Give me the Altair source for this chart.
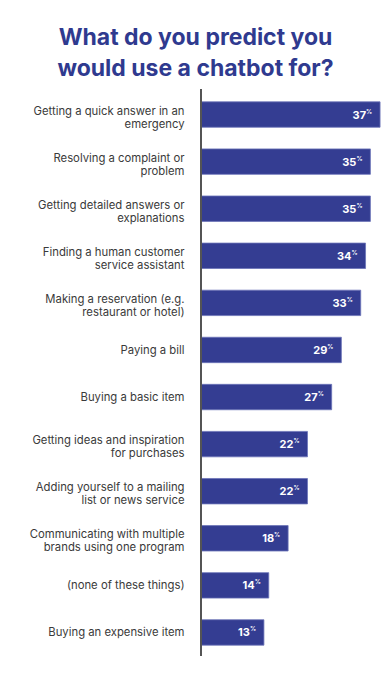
import altair as alt
import pandas as pd

categories = [
    "Getting a quick answer in an|emergency",
    "Resolving a complaint or|problem",
    "Getting detailed answers or|explanations",
    "Finding a human customer|service assistant",
    "Making a reservation (e.g.|restaurant or hotel)",
    "Paying a bill",
    "Buying a basic item",
    "Getting ideas and inspiration|for purchases",
    "Adding yourself to a mailing|list or news service",
    "Communicating with multiple|brands using one program",
    "(none of these things)",
    "Buying an expensive item",
]
values = [37, 35, 35, 34, 33, 29, 27, 22, 22, 18, 14, 13]
title_lines = ["What do you predict you", "would use a chatbot for?"]

df = pd.DataFrame({"cat": categories, "val": values})
df["lab"] = df["val"].astype(str)

W, H = 181, 565
BLUE = "#343d92"

y_enc = alt.Y(
    "cat:N",
    sort=categories,
    title=None,
    scale=alt.Scale(paddingInner=0.46, paddingOuter=0.23),
    axis=alt.Axis(
        labelExpr="split(datum.label, '|')",
        labelFontSize=11.3,
        labelFont="Inter",
        labelColor="#3a3a3a",
        labelLineHeight=13,
        labelPadding=17,
        labelOffset={"condition": {"test": "indexof(datum.label, '|') >= 0", "value": -3}, "value": 1},
        ticks=False,
        domain=False,
        labelLimit=200,
    ),
)
x_enc = alt.X("val:Q", scale=alt.Scale(domain=[0, 37.4]), axis=None)

base = alt.Chart(df)
bars = base.mark_bar(color=BLUE, stroke="#6b74b8", strokeWidth=0.8).encode(x=x_enc, y=y_enc)
nums = base.mark_text(align="right", baseline="middle", dx=-14, dy=1, color="white",
                      fontWeight="bold", fontSize=11, font="Inter").encode(x=x_enc, y=y_enc, text="lab:N")
pct = base.mark_text(align="left", baseline="middle", dx=-14, dy=-3, color="white",
                     fontWeight="bold", fontSize=6, font="Inter").encode(x=x_enc, y=y_enc, text=alt.value("%"))
rule = alt.Chart(df).mark_rule(color="#555555", strokeWidth=1.3).encode(
    x=alt.value(0), y=alt.value(-2), y2=alt.value(H + 11))

chart = alt.layer(bars, nums, pct, rule).properties(
    width=W,
    height=H,
    autosize=alt.AutoSizeParams(type="none"),
    padding={"left": 193, "top": 83, "right": 0, "bottom": 0},
    title=alt.TitleParams(
        text=title_lines,
        anchor="middle",
        dx=-96,
        offset=7,
        fontSize=23,
        font="Inter",
        fontWeight="bold",
        color="#2f3a8f",
        lineHeight=31,
    ),
).configure_view(stroke=None)

chart.save("out.html", embed_options={"renderer": "svg", "actions": False})
